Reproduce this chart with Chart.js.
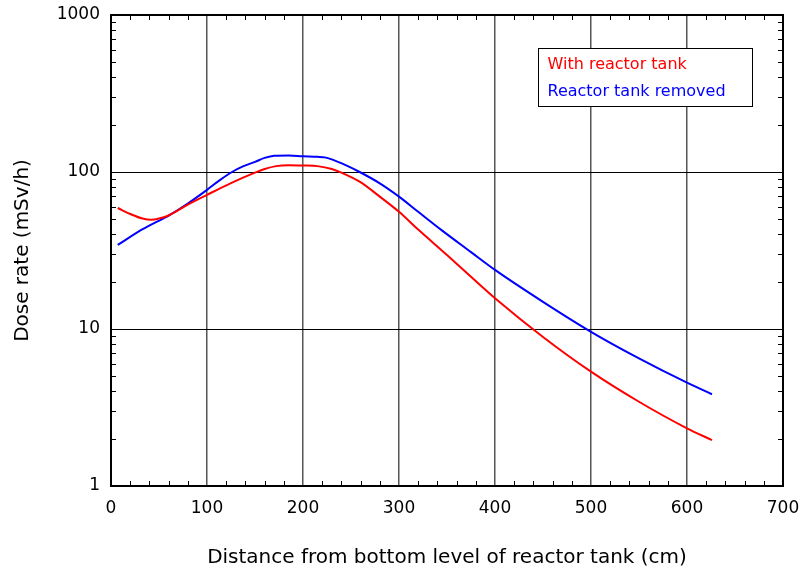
<!DOCTYPE html>
<html>
<head>
<meta charset="utf-8">
<script src="https://cdn.jsdelivr.net/npm/chart.js@4/dist/chart.umd.min.js"></script>
<style>
  html, body { margin: 0; padding: 0; background: #fff; }
  #wrap { width: 802px; height: 576px; position: relative; }
</style>
</head>
<body>
<div id="wrap"><canvas id="doseChart"></canvas></div>
<script>
/* ---- data ---- */
const withTankX = [7, 20, 33, 42, 50, 61, 80, 100, 125, 150, 160, 172, 185, 200, 215, 230, 240, 259, 280, 300, 320, 350, 375, 400, 450, 500, 550, 600, 626];
const withTankY = [59, 54, 50.5, 49.6, 50.5, 53.2, 62, 71.5, 85, 99, 104.5, 109, 110.5, 110, 109, 104.5, 99, 86.8, 69.7, 55.8, 43, 29.6, 21.5, 15.7, 8.9, 5.35, 3.44, 2.33, 1.96];
const removedX = [7, 33, 61, 80, 100, 113, 126, 138, 150, 160, 170, 185, 200, 215, 224, 232, 241, 259, 280, 300, 320, 344, 375, 400, 450, 500, 550, 600, 626];
const removedY = [34.3, 43.2, 53.2, 63, 77, 88.5, 100, 109, 116, 123, 127, 127.5, 126, 125, 123.5, 119, 113, 100, 84.7, 69.7, 55.8, 42.8, 30.9, 23.8, 14.9, 9.6, 6.5, 4.55, 3.84];
const xTicks = [0, 100, 200, 300, 400, 500, 600, 700];
const yTicks = [1, 10, 100, 1000];
const seriesNames = ['With reactor tank', 'Reactor tank removed'];
const seriesColors = ['#ff0000', '#0000ff'];

const FONT = '"Comic Sans MS", "DejaVu Sans", sans-serif';
const toPts = (xs, ys) => xs.map((x, i) => ({x, y: ys[i]}));

/* inward minor ticks + boxed legend inside the plot */
const frameExtras = {
  id: 'frameExtras',
  afterDraw(chart){
    const {ctx, chartArea: a, scales: {x, y}} = chart;
    ctx.save();
    ctx.strokeStyle = '#000'; ctx.lineWidth = 1;
    ctx.beginPath();
    for (let v = 20; v < 700; v += 20){
      if (v % 100 === 0) continue;
      const px = Math.round(x.getPixelForValue(v)) + 0.5;
      ctx.moveTo(px, a.bottom); ctx.lineTo(px, a.bottom - 5);
      ctx.moveTo(px, a.top); ctx.lineTo(px, a.top + 5);
    }
    for (let dec = 1; dec < 1000; dec *= 10){
      for (let m = 2; m <= 9; m++){
        const py = Math.round(y.getPixelForValue(dec * m)) + 0.5;
        ctx.moveTo(a.left, py); ctx.lineTo(a.left + 5, py);
        ctx.moveTo(a.right, py); ctx.lineTo(a.right - 5, py);
      }
    }
    ctx.stroke();
    ctx.lineWidth = 2;
    ctx.strokeRect(a.left, a.top, a.right - a.left, a.bottom - a.top);

    // legend
    const lx = 538.5, ly = 48.5, lw = 214, lh = 58;
    ctx.fillStyle = '#fff';
    ctx.fillRect(lx, ly, lw, lh);
    ctx.lineWidth = 1;
    ctx.strokeRect(lx, ly, lw, lh);
    ctx.font = '16px ' + FONT;
    ctx.textBaseline = 'middle';
    ctx.textAlign = 'left';
    seriesNames.forEach((n, i) => {
      ctx.fillStyle = seriesColors[i];
      ctx.fillText(n, lx + 9, ly + 16 + i * 27);
    });
    ctx.restore();
  }
};

new Chart(document.getElementById('doseChart'), {
  type: 'line',
  data: {
    datasets: [
      { label: seriesNames[0], data: toPts(withTankX, withTankY), borderColor: seriesColors[0], borderWidth: 2, pointRadius: 0, cubicInterpolationMode: 'monotone' },
      { label: seriesNames[1], data: toPts(removedX, removedY), borderColor: seriesColors[1], borderWidth: 2, pointRadius: 0, cubicInterpolationMode: 'monotone' }
    ]
  },
  options: {
    responsive: true, maintainAspectRatio: false, animation: false,
    layout: { padding: { top: 15, right: 19, left: 0, bottom: 0 } },
    plugins: { legend: { display: false }, tooltip: { enabled: false } },
    scales: {
      x: {
        type: 'linear', min: 0, max: 700,
        afterBuildTicks: s => { s.ticks = xTicks.map(v => ({value: v})); },
        afterFit: s => { s.height = 90; s.paddingLeft = 0; s.paddingRight = 0; },
        grid: { color: '#555', lineWidth: 1.5, drawTicks: false },
        border: { display: false },
        ticks: { color: '#000', font: { family: FONT, size: 17 }, padding: 12, maxRotation: 0 },
        title: { display: true, text: 'Distance from bottom level of reactor tank (cm)', color: '#000', font: { family: FONT, size: 20 }, padding: { top: 0, bottom: 6 } }
      },
      y: {
        type: 'logarithmic', min: 1, max: 1000,
        afterBuildTicks: s => { s.ticks = yTicks.map(v => ({value: v})); },
        afterFit: s => { s.width = 111; s.paddingTop = 0; s.paddingBottom = 0; },
        grid: { color: '#000', lineWidth: 1, drawTicks: false },
        border: { display: false },
        ticks: { color: '#000', font: { family: FONT, size: 17 }, padding: 11, callback: v => String(v) },
        title: { display: true, text: 'Dose rate (mSv/h)', color: '#000', font: { family: FONT, size: 20 }, padding: { top: 11, bottom: 0 } }
      }
    }
  },
  plugins: [frameExtras]
});
</script>
</body>
</html>
